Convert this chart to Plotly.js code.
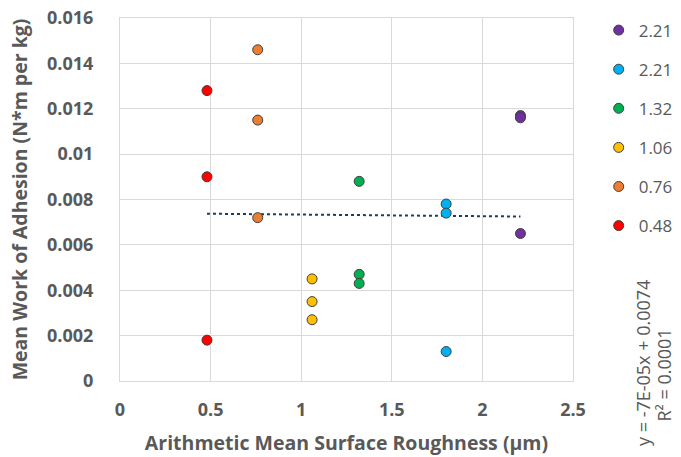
<!DOCTYPE html>
<html>
<head>
<meta charset="utf-8">
<script src="https://cdn.plot.ly/plotly-3.0.1.min.js"></script>
<style>html,body{margin:0;padding:0;background:#fff;}#chart{width:681px;height:457px;}</style>
</head>
<body>
<div id="chart"></div>
<script>
// Series (legend label, x roughness, y values)
const seriesNames = ["0.48", "0.76", "1.06", "1.32", "2.21", "2.21"];
const seriesX = [0.48, 0.76, 1.06, 1.32, 1.80, 2.21];
const redY = [0.0128, 0.0090, 0.0018];
const orangeY = [0.0146, 0.0115, 0.0072];
const yellowY = [0.0045, 0.0035, 0.0027];
const greenY = [0.0088, 0.0047, 0.0043];
const blueY = [0.0078, 0.0074, 0.0013];
const purpleY = [0.0117, 0.0116, 0.0065];
const seriesY = [redY, orangeY, yellowY, greenY, blueY, purpleY];
const seriesColors = ["#FF0000", "#ED7D31", "#FFC000", "#00B050", "#00B0F0", "#7030A0"];
const yTickVals = [0, 0.002, 0.004, 0.006, 0.008, 0.01, 0.012, 0.014, 0.016];
const yTickText = ["0", "0.002", "0.004", "0.006", "0.008", "0.01", "0.012", "0.014", "0.016"];
const xTickVals = [0, 0.5, 1, 1.5, 2, 2.5];
const xTickText = ["0", "0.5", "1", "1.5", "2", "2.5"];

const gray = "#595959";
const FONT = "Open Sans, Liberation Sans, sans-serif";

// linear regression over all points
let allX = [], allY = [];
seriesY.forEach((ys, i) => ys.forEach(v => { allX.push(seriesX[i]); allY.push(v); }));
const n = allX.length;
const mx = allX.reduce((a, b) => a + b, 0) / n;
const my = allY.reduce((a, b) => a + b, 0) / n;
let sxy = 0, sxx = 0, syy = 0;
for (let i = 0; i < n; i++) {
  sxy += (allX[i] - mx) * (allY[i] - my);
  sxx += (allX[i] - mx) ** 2;
  syy += (allY[i] - my) ** 2;
}
const slope = sxy / sxx;
const intercept = my - slope * mx;
const r2 = (sxy * sxy) / (sxx * syy);
function excelExp(v) {
  const s = v.toExponential(0); // e.g. -7e-5
  const m = s.split("e");
  const e = parseInt(m[1], 10);
  const sign = e < 0 ? "-" : "+";
  return m[0] + "E" + sign + String(Math.abs(e)).padStart(2, "0");
}
const eqLine1 = "y = " + excelExp(slope) + "x + " + intercept.toFixed(4);
const eqLine2 = "R² = " + r2.toFixed(4);

const xMin = Math.min(...allX), xMax = Math.max(...allX);

const traces = [];
traces.push({
  x: [xMin, xMax],
  y: [intercept + slope * xMin, intercept + slope * xMax],
  mode: "lines",
  line: { color: "#1F3864", width: 2, dash: "dot" },
  showlegend: false,
  hoverinfo: "skip"
});
const order = [5, 4, 3, 2, 1, 0];
order.forEach((i, k) => {
  traces.push({
    x: seriesY[i].map(() => seriesX[i]),
    y: seriesY[i],
    name: seriesNames[i],
    legendgroup: "g" + k,
    mode: "markers",
    type: "scatter",
    marker: { color: seriesColors[i], size: 10, line: { color: "#404040", width: 1 } }
  });
});

const layout = {
  width: 681, height: 457,
  margin: { l: 120, r: 108, t: 18, b: 76, autoexpand: false },
  paper_bgcolor: "#ffffff",
  plot_bgcolor: "#ffffff",
  font: { family: FONT, color: gray },
  showlegend: true,
  legend: {
    x: 1.0567, y: 1.015, xanchor: "left", yanchor: "top",
    font: { family: FONT, size: 17, color: gray },
    tracegroupgap: 14,
    bgcolor: "rgba(0,0,0,0)"
  },
  xaxis: {
    range: [0, 2.5],
    tickvals: xTickVals, ticktext: xTickText,
    tickfont: { family: FONT, size: 18, color: gray, weight: "bold" },
    ticklabelstandoff: 12,
    showgrid: true, gridcolor: "#D9D9D9", gridwidth: 1,
    showline: true, linecolor: "#D9D9D9", linewidth: 1, mirror: true,
    zeroline: false, ticks: "",
    title: { text: "Arithmetic Mean Surface Roughness (µm)", font: { family: FONT, size: 19.5, color: gray, weight: "bold" }, standoff: 16 }
  },
  yaxis: {
    range: [0, 0.016],
    tickvals: yTickVals, ticktext: yTickText,
    tickfont: { family: FONT, size: 18, color: gray, weight: "bold" },
    ticklabelstandoff: 22,
    showgrid: true, gridcolor: "#D9D9D9", gridwidth: 1,
    showline: true, linecolor: "#D9D9D9", linewidth: 1, mirror: true,
    zeroline: false, ticks: "",
    title: { text: "Mean Work of Adhesion (N*m per kg)", font: { family: FONT, size: 19.5, color: gray, weight: "bold" }, standoff: 14 }
  },
  annotations: [{
    text: eqLine1,
    xref: "paper", yref: "paper",
    x: 1.1545, y: 0.0495, xanchor: "center", yanchor: "middle",
    textangle: -90, showarrow: false,
    font: { family: FONT, size: 18, color: gray }
  }, {
    text: eqLine2,
    xref: "paper", yref: "paper",
    x: 1.2009, y: 0.015, xanchor: "center", yanchor: "middle",
    textangle: -90, showarrow: false,
    font: { family: FONT, size: 18, color: gray }
  }]
};

Plotly.newPlot("chart", traces, layout, { displayModeBar: false, staticPlot: true });
</script>
</body>
</html>
